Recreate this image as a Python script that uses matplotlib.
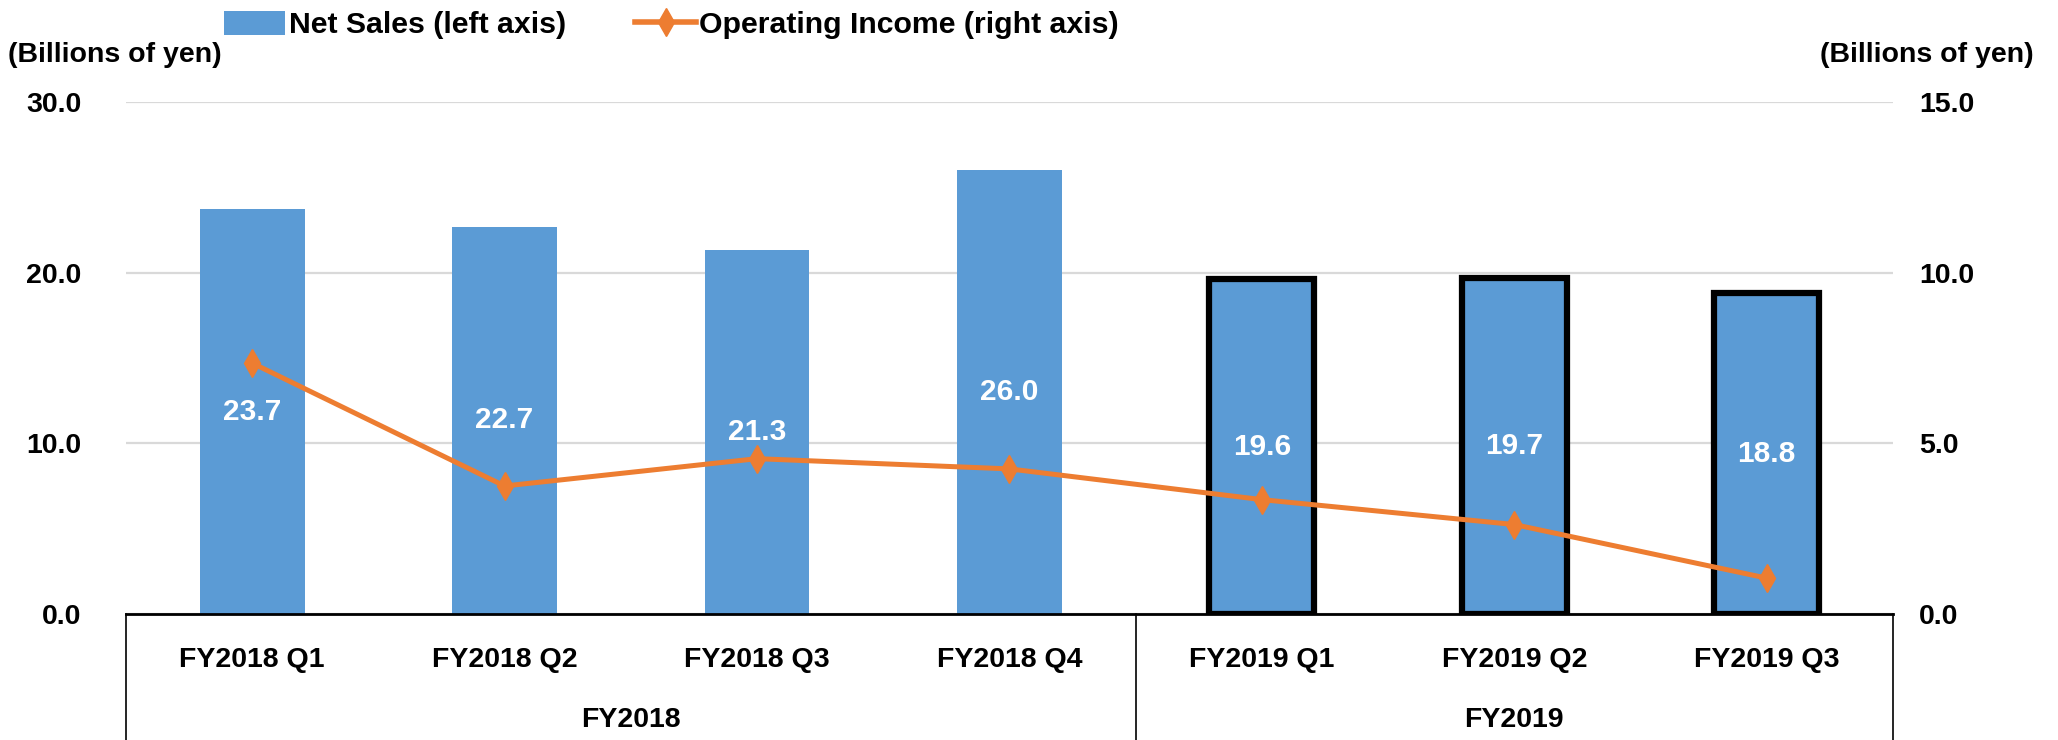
import matplotlib
matplotlib.use("Agg")
import matplotlib.pyplot as plt
import matplotlib.transforms as mtransforms
from matplotlib.lines import Line2D
from matplotlib.patches import Patch
import numpy as np

plt.rcParams['font.family'] = ['Liberation Sans', 'DejaVu Sans']
plt.rcParams['font.weight'] = 'bold'

# data
quarters = ['FY2018 Q1', 'FY2018 Q2', 'FY2018 Q3', 'FY2018 Q4',
            'FY2019 Q1', 'FY2019 Q2', 'FY2019 Q3']
years = ['FY2018', 'FY2019']
year_counts = [4, 3]
net_sales = [23.7, 22.7, 21.3, 26.0, 19.6, 19.7, 18.8]
op_income = [7.35, 3.75, 4.55, 4.25, 3.35, 2.62, 1.05]

BLUE = '#5B9BD5'
ORANGE = '#ED7D31'
FS = 20.5

fig = plt.figure(figsize=(20.58, 7.4), dpi=100)
ax = fig.add_axes([0.0612, 0.1703, 0.8586, 0.6919])
x = np.arange(len(quarters))

edge = ['none'] * 4 + ['black'] * 3
lw = [0] * 4 + [4.5] * 3
ax.bar(x, net_sales, width=0.415, color=BLUE, edgecolor=edge, linewidth=lw, zorder=2)
for xi, v in zip(x, net_sales):
    ax.text(xi, v / 2, f'{v:.1f}', ha='center', va='center', color='white',
            fontsize=FS + 1, fontweight='bold', zorder=4)

ax.set_xlim(-0.5, len(quarters) - 0.5)
ax.set_ylim(0, 30)
ax.set_yticks([0, 10, 20, 30])
ax.set_yticklabels([f'{t:.1f}' for t in [0, 10, 20, 30]])
ax.yaxis.grid(True, color='#D9D9D9', linewidth=1.6, zorder=0)
ax.set_axisbelow(True)
ax.tick_params(axis='y', length=0, pad=32, labelsize=FS)
ax.set_xticks([])
for s in ['top', 'left', 'right']:
    ax.spines[s].set_visible(False)
ax.spines['bottom'].set_linewidth(2)
ax.spines['bottom'].set_color('black')
ax.spines['bottom'].set_zorder(5)

ax2 = ax.twinx()
ax2.plot(x, op_income, color=ORANGE, linewidth=3.6, marker='d', markersize=14, zorder=3)
ax2.set_ylim(0, 15)
ax2.set_yticks([0, 5, 10, 15])
ax2.set_yticklabels([f'{t:.1f}' for t in [0, 5, 10, 15]])
ax2.tick_params(axis='y', length=0, pad=19, labelsize=FS)
for s in ['top', 'left', 'right', 'bottom']:
    ax2.spines[s].set_visible(False)

# category boxes under the axis
trans = mtransforms.blended_transform_factory(ax.transData, ax.transAxes)
bounds = np.concatenate([[0], np.cumsum(year_counts)]) - 0.5
for b in bounds:
    ax.plot([b, b], [0, -0.4], transform=trans, color='black', linewidth=1.2, clip_on=False)
for xi, q in zip(x, quarters):
    ax.text(xi, -0.09, q, transform=trans, ha='center', va='center', fontsize=FS, fontweight='bold')
for i, y in enumerate(years):
    ax.text((bounds[i] + bounds[i + 1]) / 2, -0.208, y, transform=trans, ha='center', va='center',
            fontsize=FS, fontweight='bold')

fig.text(0.004, 0.925, '(Billions of yen)', ha='left', va='center', fontsize=FS, fontweight='bold')
fig.text(0.988, 0.925, '(Billions of yen)', ha='right', va='center', fontsize=FS, fontweight='bold')

handles = [Patch(facecolor=BLUE, edgecolor='none'),
           Line2D([0], [0], color=ORANGE, linewidth=4, marker='d', markersize=14)]
fig.legend(handles, ['Net Sales (left axis)', 'Operating Income (right axis)'],
           loc='center left', bbox_to_anchor=(0.109, 0.966), ncol=2, frameon=False,
           fontsize=21.8, handlelength=2.0, handletextpad=0.12, columnspacing=2.3,
           handleheight=0.85, borderaxespad=0, borderpad=0)

fig.savefig('out.png', dpi=100)
